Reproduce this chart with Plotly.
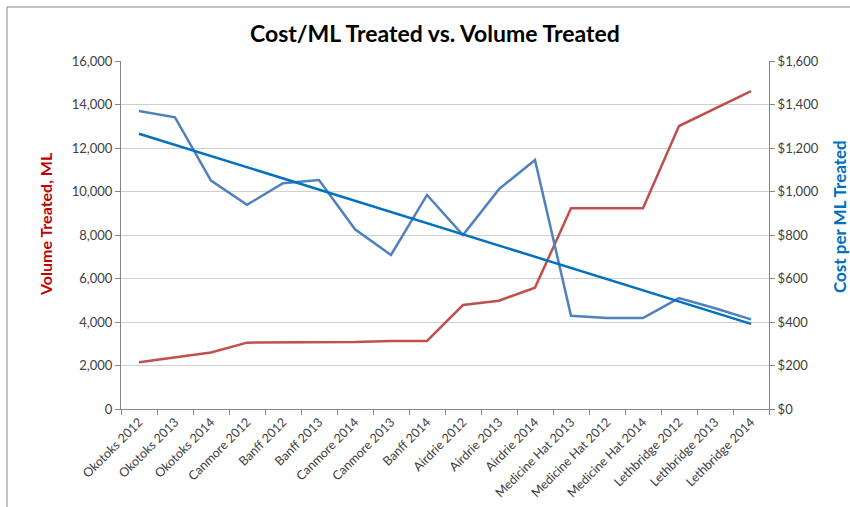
import numpy as np
import plotly.graph_objects as go

sites = ["Okotoks 2012", "Okotoks 2013", "Okotoks 2014", "Canmore 2012", "Banff 2012",
         "Banff 2013", "Canmore 2014", "Canmore 2013", "Banff 2014", "Airdrie 2012",
         "Airdrie 2013", "Airdrie 2014", "Medicine Hat 2013", "Medicine Hat 2012",
         "Medicine Hat 2014", "Lethbridge 2012", "Lethbridge 2013", "Lethbridge 2014"]
volume_ml = [2150, 2380, 2600, 3050, 3050, 3050, 3080, 3130, 3130, 4780,
             4980, 5580, 9230, 9230, 9230, 13010, 13800, 14620]
cost_per_ml = [1370, 1341, 1050, 939, 1038, 1053, 826, 708, 984, 800,
               1011, 1145, 429, 418, 418, 510, 463, 412]

# Excel-style linear trendline through the cost series
idx = np.arange(len(cost_per_ml))
slope, intercept = np.polyfit(idx, cost_per_ml, 1)
cost_trend = slope * idx + intercept

FONT = "Lato, Open Sans, sans-serif"
tick_font = dict(family=FONT, size=13, color="#404040")

# plot area in pixels: x 121..769, y 61..409
PW, PH = 648, 348


def px_x(x):
    return (x - 121) / PW


def px_y(y):
    return (409 - y) / PH


fig = go.Figure()
fig.add_trace(go.Scatter(x=sites, y=volume_ml, mode="lines", name="Volume Treated",
                         line=dict(color="#C0504D", width=2.5)))
fig.add_trace(go.Scatter(x=sites, y=cost_per_ml, mode="lines", name="Cost per ML", yaxis="y2",
                         line=dict(color="#4F81BD", width=2.5)))
fig.add_trace(go.Scatter(x=sites, y=cost_trend, mode="lines", name="Linear (Cost per ML)", yaxis="y2",
                         line=dict(color="#0070C0", width=2.5)))

fig.update_layout(
    width=850, height=507,
    paper_bgcolor="white", plot_bgcolor="white",
    showlegend=False,
    margin=dict(l=121, r=81, t=61, b=98, autoexpand=False),
    xaxis=dict(type="category", tickangle=-45, tickfont=dict(family=FONT, size=12.5, color="#404040"),
               automargin=False,
               showline=True, linecolor="#868686", linewidth=1,
               ticks="outside", ticklen=5, tickcolor="#868686", tickson="boundaries",
               showgrid=False, range=[-0.5, len(sites) - 0.5]),
    yaxis=dict(range=[0, 16000], dtick=2000, tickformat=",d", tickfont=tick_font, automargin=False,
               showline=True, linecolor="#868686", linewidth=1,
               ticks="outside", ticklen=5, tickcolor="#868686",
               showgrid=True, gridcolor="#D0D0D0", gridwidth=1, zeroline=False),
    yaxis2=dict(range=[0, 1600], dtick=200, tickprefix="$", tickformat=",d", tickfont=tick_font,
                overlaying="y", side="right", automargin=False,
                showline=True, linecolor="#868686", linewidth=1,
                ticks="outside", ticklen=5, tickcolor="#868686",
                showgrid=False, zeroline=False),
    annotations=[
        dict(text="<b>Cost/ML Treated vs. Volume Treated</b>", xref="paper", yref="paper",
             x=px_x(435), y=px_y(33), xanchor="center", yanchor="middle", showarrow=False,
             font=dict(family=FONT, size=23, color="black")),
        dict(text="<b>Volume Treated, ML</b>", xref="paper", yref="paper",
             x=px_x(46), y=px_y(224), xanchor="center", yanchor="middle", showarrow=False,
             textangle=-90, font=dict(family=FONT, size=16, color="#C00000")),
        dict(text="<b>Cost per ML Treated</b>", xref="paper", yref="paper",
             x=px_x(839), y=px_y(217), xanchor="center", yanchor="middle", showarrow=False,
             textangle=-90, font=dict(family=FONT, size=17, color="#0070C0")),
    ],
    shapes=[dict(type="rect", xref="paper", yref="paper",
                 x0=px_x(7), x1=px_x(860), y0=px_y(520), y1=px_y(7),
                 line=dict(color="#868686", width=1))],
)

# drop the default 8px page margin so the figure sits at the window's corner
fig.write_html("out.html", config={"displayModeBar": False},
               post_script="document.body.style.margin='0';document.body.style.overflow='hidden';")
